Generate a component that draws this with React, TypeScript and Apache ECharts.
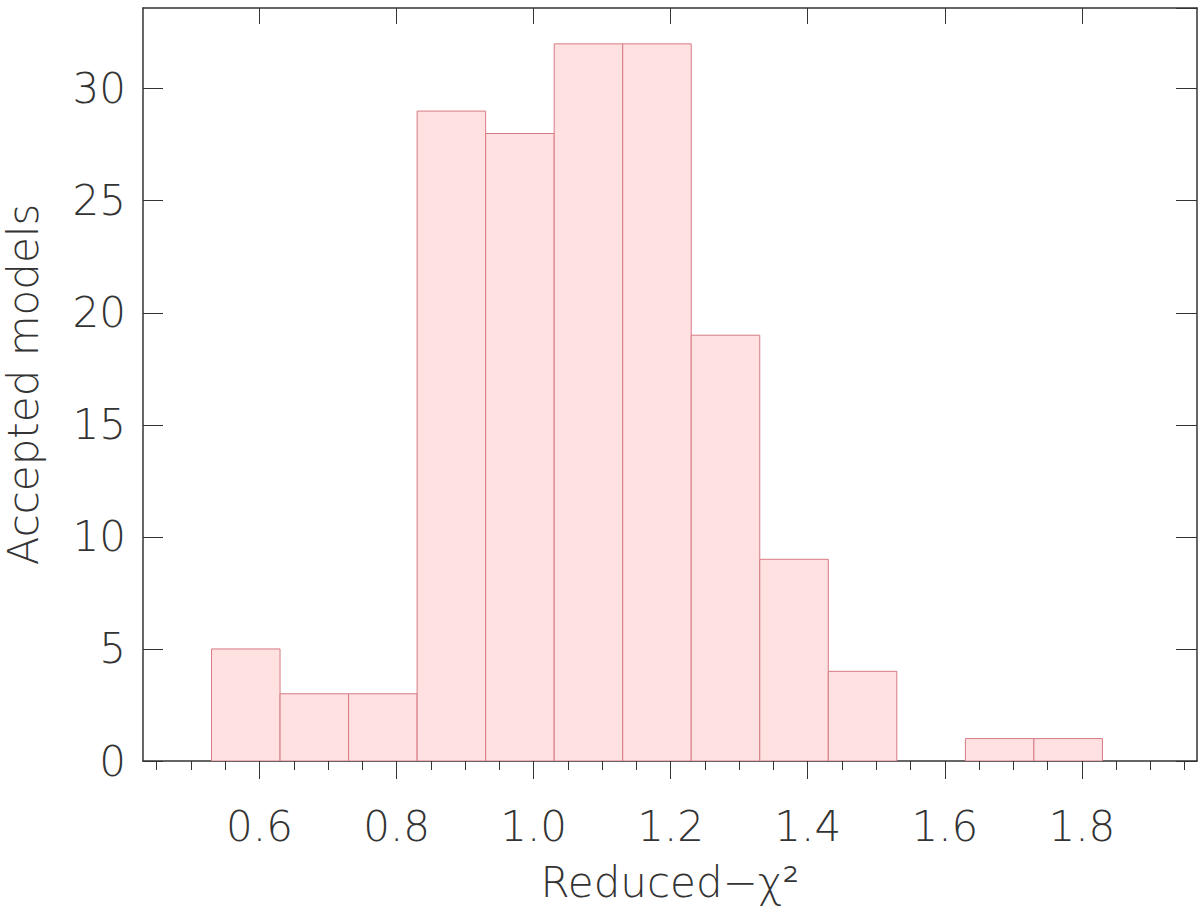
import React, { useEffect, useRef } from "react";
import * as echarts from "echarts";

const binStart = [0.53, 0.63, 0.73, 0.83, 0.93, 1.03, 1.13, 1.23, 1.33, 1.43, 1.53, 1.63, 1.73];
const binWidth = 0.1;
const counts = [5, 3, 3, 29, 28, 32, 32, 19, 9, 4, 0, 1, 1];
const xMajorTicks = [0.6, 0.8, 1.0, 1.2, 1.4, 1.6, 1.8];
const xMinorTicks = [0.45, 0.5, 0.55, 0.6, 0.65, 0.7, 0.75, 0.8, 0.85, 0.9, 0.95, 1.0, 1.05, 1.1, 1.15, 1.2, 1.25, 1.3, 1.35, 1.4, 1.45, 1.5, 1.55, 1.6, 1.65, 1.7, 1.75, 1.8, 1.85, 1.9, 1.95];
const xTitle = "Reduced\u2212χ²";
const yTitle = "Accepted models";

const FONT = "'DejaVu Sans', Roboto, sans-serif";
const FW = 200;
const TXT = "#333";
const AX = "#333";

export default function App() {
  const ref = useRef<HTMLDivElement>(null);
  useEffect(() => {
    if (!ref.current) return;
    const chart = echarts.init(ref.current, null, { renderer: "svg" });
    const xMin = 0.43;
    const xMax = 1.968;
    const baseX = { type: "value", min: xMin, max: xMax, splitLine: { show: false } };
    chart.setOption({
      animation: false,
      backgroundColor: "#fff",
      grid: { left: 143, right: 3, top: 8, bottom: 153, containLabel: false, outerBoundsMode: "none" },
      xAxis: [
        {
          ...baseX,
          position: "bottom",
          axisLine: { show: true, onZero: false, lineStyle: { color: AX, width: 1.5 } },
          axisTick: { show: true, inside: false, length: 18, customValues: xMajorTicks, lineStyle: { color: AX, width: 1 } },
          axisLabel: {
            show: true,
            customValues: xMajorTicks,
            formatter: (v: number) => v.toFixed(1),
            margin: 44,
            fontFamily: FONT,
            fontWeight: FW,
            fontSize: 42,
            color: TXT,
          },
          name: xTitle,
          nameLocation: "middle",
          nameGap: 100,
          nameTextStyle: { fontFamily: FONT, fontWeight: FW, fontSize: 42, color: TXT },
        },
        {
          ...baseX,
          position: "bottom",
          axisLine: { show: false, onZero: false },
          axisTick: { show: true, inside: false, length: 9, customValues: xMinorTicks, lineStyle: { color: AX, width: 1 } },
          axisLabel: { show: false },
        },
        {
          ...baseX,
          position: "top",
          axisLine: { show: true, onZero: false, lineStyle: { color: AX, width: 1.5 } },
          axisTick: { show: true, inside: true, length: 16, customValues: xMajorTicks, lineStyle: { color: AX, width: 1 } },
          axisLabel: { show: false },
        },
      ],
      yAxis: [
        {
          type: "value",
          min: 0,
          max: 33.6,
          interval: 5,
          position: "left",
          splitLine: { show: false },
          axisLine: { show: true, onZero: false, lineStyle: { color: AX, width: 1.5 } },
          axisTick: { show: true, inside: true, length: 20, lineStyle: { color: AX, width: 1 } },
          axisLabel: {
            margin: 17,
            fontFamily: FONT,
            fontWeight: FW,
            fontSize: 42,
            color: TXT,
            showMaxLabel: false,
          },
          name: yTitle,
          nameLocation: "middle",
          nameGap: 99,
          nameRotate: 90,
          nameTextStyle: { fontFamily: FONT, fontWeight: FW, fontSize: 42, color: TXT },
        },
        {
          type: "value",
          min: 0,
          max: 33.6,
          interval: 5,
          position: "right",
          splitLine: { show: false },
          axisLine: { show: true, onZero: false, lineStyle: { color: AX, width: 1.5 } },
          axisTick: { show: true, inside: true, length: 21, lineStyle: { color: AX, width: 1 } },
          axisLabel: { show: false },
        },
      ],
      series: [
        {
          type: "custom",
          xAxisIndex: 0,
          yAxisIndex: 0,
          clip: true,
          data: binStart.map((s, i) => [s, counts[i]]),
          renderItem: (params: any, api: any) => {
            const lo = api.value(0);
            const v = api.value(1);
            if (!v) return null;
            const p0 = api.coord([lo, 0]);
            const p1 = api.coord([lo + binWidth, v]);
            return {
              type: "rect",
              shape: { x: p0[0], y: p1[1], width: p1[0] - p0[0], height: p0[1] - p1[1] },
              style: { fill: "#ffe1e1", stroke: "#d77a84", lineWidth: 1 },
            };
          },
        },
      ],
    });
    return () => chart.dispose();
  }, []);
  return <div ref={ref} style={{ width: 1200, height: 914, position: "absolute", left: 0, top: 0 }} />;
}
